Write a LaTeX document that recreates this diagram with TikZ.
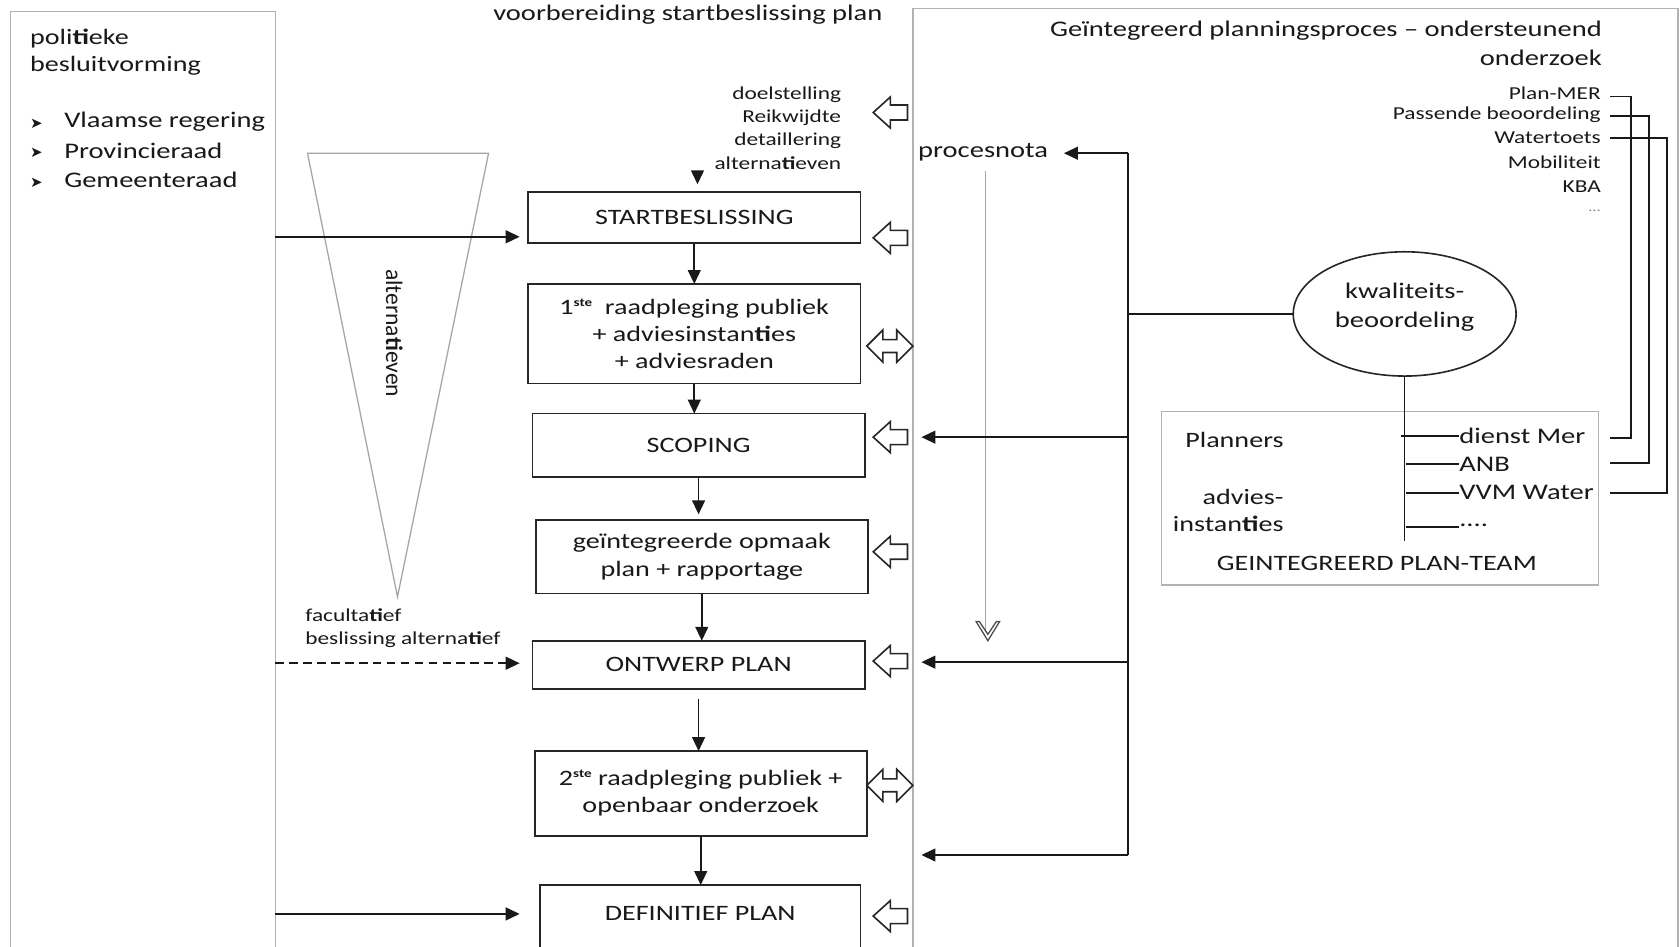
\documentclass[tikz,border=0pt]{standalone}
\usepackage{fontspec}
\setmainfont[FakeStretch=1.28]{Carlito}
\newfontfamily\plainfont{Carlito}
\newfontfamily\symfont{DejaVu Sans}
\usetikzlibrary{arrows.meta,shapes.geometric}
\newcommand\holArrow[1]{\draw[hol] (815,#1) -- ++(16,-14.5) -- ++(0,7.5) -- ++(16,0) -- ++(0,14) -- ++(-16,0) -- ++(0,7.5) -- cycle;}
\newcommand\dblArrow[1]{\draw[hol] (809,#1) -- ++(15,-15) -- ++(0,9) -- ++(13,0) -- ++(0,-9) -- ++(15,15) -- ++(-15,15) -- ++(0,-9) -- ++(-13,0) -- ++(0,9) -- cycle;}
\newcommand\supx[1]{\raisebox{0.75ex}{\fontsize{5.5pt}{6pt}\selectfont\bfseries #1}}
\begin{document}
\begin{tikzpicture}[x=0.5pt,y=-0.5pt,
  every node/.style={inner sep=0pt, outer sep=0pt, text=black!90},
  txt/.style={font=\fontsize{10.25pt}{12.75pt}\selectfont},
  big/.style={font=\fontsize{10.4pt}{13.5pt}\selectfont},
  sml/.style={font=\fontsize{8.5pt}{10.8pt}\selectfont},
  box/.style={draw=black!85, line width=0.8pt, rectangle, txt, align=center},
  gbox/.style={draw=black!30, line width=0.6pt, rectangle},
  arr/.style={draw=black!90, line width=0.75pt, -{Triangle[length=6.5pt,width=6pt]}},
  ln/.style={draw=black!90, line width=0.75pt},
  hol/.style={draw=black!85, line width=0.75pt, fill=white, line join=miter},
]
\useasboundingbox (0,0) rectangle (1568,883);
\clip (0,0) rectangle (1568,883);
\fill[white] (0,0) rectangle (1568,883);

% frames
\node[gbox, minimum width=123.5pt, minimum height=460pt, anchor=north west] (lb) at (10,11) {};
\node[gbox, minimum width=357pt, minimum height=460pt, anchor=north west] (rb) at (852,8) {};

% left column texts
\node[txt, anchor=west, align=left] (lt) at (28,48.5) {poli\textbf{ti}eke\\besluitvorming};
\node[big, anchor=west] (b1) at (60,114) {Vlaamse regering};
\node[big, anchor=west] (b2) at (60,141) {Provincieraad};
\node[big, anchor=west] (b3) at (60,168) {Gemeenteraad};
\node[font=\symfont\fontsize{7pt}{7pt}\selectfont] (m1) at (34,116) {➤};
\node[font=\symfont\fontsize{7pt}{7pt}\selectfont] (m2) at (34,143) {➤};
\node[font=\symfont\fontsize{7pt}{7pt}\selectfont] (m3) at (34,171) {➤};

% triangle
\draw[draw=black!35, line width=0.6pt] (287,143) -- (456,143) -- (371,557) -- cycle;
\node[font=\plainfont\fontsize{11pt}{13pt}\selectfont, rotate=-90] (alt) at (368,311) {alterna\textbf{ti}even};

% header
\node[big] (hd) at (642,14) {voorbereiding startbeslissing plan};

% main column
\node[sml, anchor=east, align=right] (dl) at (785,119.5) {doelstelling\\Reikwijdte\\detaillering\\alterna\textbf{ti}even};
\node[box, minimum width=155pt, minimum height=24pt] (sb) at (648,203) {STARTBESLISSING};
\node[box, minimum width=155pt, minimum height=46.5pt] (r1) at (648,311.5) {1\supx{ste}\ \ raadpleging publiek\\+ adviesinstan\textbf{ti}es\\+ adviesraden};
\node[box, minimum width=155pt, minimum height=29.5pt] (sc) at (652,415.5) {SCOPING};
\node[box, minimum width=155pt, minimum height=34.5pt] (go) at (655,519.5) {geïntegreerde opmaak\\plan + rapportage};
\node[box, minimum width=155pt, minimum height=22.5pt] (op) at (652,620.5) {ONTWERP PLAN};
\node[box, minimum width=155pt, minimum height=39.5pt] (r2) at (654,740.5) {2\supx{ste} raadpleging publiek +\\openbaar onderzoek};
\node[box, minimum width=149.5pt, minimum height=60pt, anchor=north] (dp) at (653.5,826) {};
\node[txt] (dpt) at (653.5,853) {DEFINITIEF PLAN};

\coordinate (dla) at (651,160);
\draw[arr, shorten >=3.5pt] (dla) -- (dla |- sb.north);
\draw[arr] (sb.south) -- (sb.south |- r1.north);
\draw[arr] (r1.south) -- (r1.south |- sc.north);
\draw[arr, shorten >=2.5pt] (sc.south) -- (sc.south |- go.north);
\draw[arr] (go.south) -- (go.south |- op.north);
\draw[arr, shorten <=4.5pt] (op.south) -- (op.south |- r2.north);
\draw[arr] (r2.south) -- (r2.south |- dp.north);

% left arrows
\node[sml, anchor=west, align=left] (fa) at (285,586.5) {faculta\textbf{ti}ef\\beslissing alterna\textbf{ti}ef};
\coordinate (ya) at (0,221);
\coordinate (yb) at (0,619);
\coordinate (yc) at (0,853);
\draw[arr, shorten >=4pt] (lb.east |- ya) -- (sb.west |- ya);
\draw[arr, dashed, dash pattern=on 4pt off 2.5pt, shorten >=6pt] (lb.east |- yb) -- (op.west |- yb);
\draw[arr, shorten >=9.5pt] (lb.east |- yc) -- (dp.west |- yc);

% hollow arrows
\holArrow{105}
\holArrow{222}
\dblArrow{323}
\holArrow{408}
\holArrow{515}
\holArrow{617}
\dblArrow{733}
\holArrow{855}

% right side
\node[big, anchor=east, align=right] (rt) at (1495,40.5) {Geïntegreerd planningsproces – ondersteunend\\onderzoek};
\node[sml, anchor=east] (pm) at (1494,87) {Plan-MER};
\node[sml, anchor=east] (pb) at (1494,107) {Passende beoordeling};
\node[sml, anchor=east] (wt) at (1494,129) {Watertoets};
\node[sml, anchor=east] (mo) at (1494,151) {Mobiliteit};
\node[sml, anchor=east] (kb) at (1494,174) {KBA};
\node[font=\fontsize{6pt}{6pt}\selectfont, anchor=east, text=black!50] (el) at (1494,197) {...};

\node[big, anchor=west] (pn) at (857,142) {procesnota};
\coordinate (pv1) at (920,160);
\coordinate (pv2) at (920,590);
\draw[draw=black!35, line width=0.6pt] (pv1) -- (pv2);
\draw[draw=black!70, line width=0.6pt, fill=white] (911,580) -- (922,598) -- (933,580) -- (930,580) -- (922,592) -- (914,580) -- cycle;

\node[ellipse, draw=black!85, line width=0.75pt, minimum width=104pt, minimum height=58pt] (kw) at (1311,293) {};
\node[big, align=center] (kwt) at (1311,286.5) {kwaliteits-\\beoordeling};

\coordinate (jt) at (1053,143);
\coordinate (jb) at (1053,798);
\coordinate (pna) at (993,143);
\coordinate (ea1) at (860,408);
\coordinate (ea2) at (860,618);
\coordinate (ea3) at (860,798);
\draw[ln] (jt) -- (jb);
\draw[arr] (jt) -- (pna);
\draw[ln] (kw.west) -- (kw.west -| jt);
\draw[arr] (jt |- ea1) -- (ea1);
\draw[arr] (jt |- ea2) -- (ea2);
\draw[arr] (jb) -- (ea3);

% plan team
\node[gbox, minimum width=204pt, minimum height=81pt] (pt) at (1288,465) {};
\node[txt, anchor=east] (pl) at (1198,411) {Planners};
\node[txt, anchor=east, align=right] (adv) at (1198,476.5) {advies-\\instan\textbf{ti}es};
\node[txt] (gpt) at (1285,526) {GEINTEGREERD PLAN-TEAM};
\node[big, anchor=west] (dm) at (1362,407) {dienst Mer};
\node[big, anchor=west] (anb) at (1362,433) {ANB};
\node[big, anchor=west] (vvm) at (1362,460) {VVM Water};
\node[big, anchor=west] (dd) at (1362,490) {....};
\coordinate (tv) at (1312,505);
\draw[ln] (kw.south) -- (kw.south |- tv);
\draw[ln] ([xshift=-2pt]dm.west -| tv) -- (dm.west);
\draw[ln] (anb.west -| tv) -- (anb.west);
\draw[ln] (vvm.west -| tv) -- (vvm.west);
\draw[ln] (tv |- 0,492) -- (dd.west |- 0,492);

% connectors from research list to team
\coordinate (c1a) at (1503,90);
\coordinate (c1c) at (1522,409);
\coordinate (c1d) at (1503,409);
\coordinate (c2a) at (1503,108);
\coordinate (c2c) at (1539,432);
\coordinate (c2d) at (1503,432);
\coordinate (c3a) at (1503,129);
\coordinate (c3c) at (1556,460);
\coordinate (c3d) at (1503,460);
\draw[ln] (c1a) -| (c1c) -- (c1d);
\draw[ln] (c2a) -| (c2c) -- (c2d);
\draw[ln] (c3a) -| (c3c) -- (c3d);
\end{tikzpicture}
\end{document}
